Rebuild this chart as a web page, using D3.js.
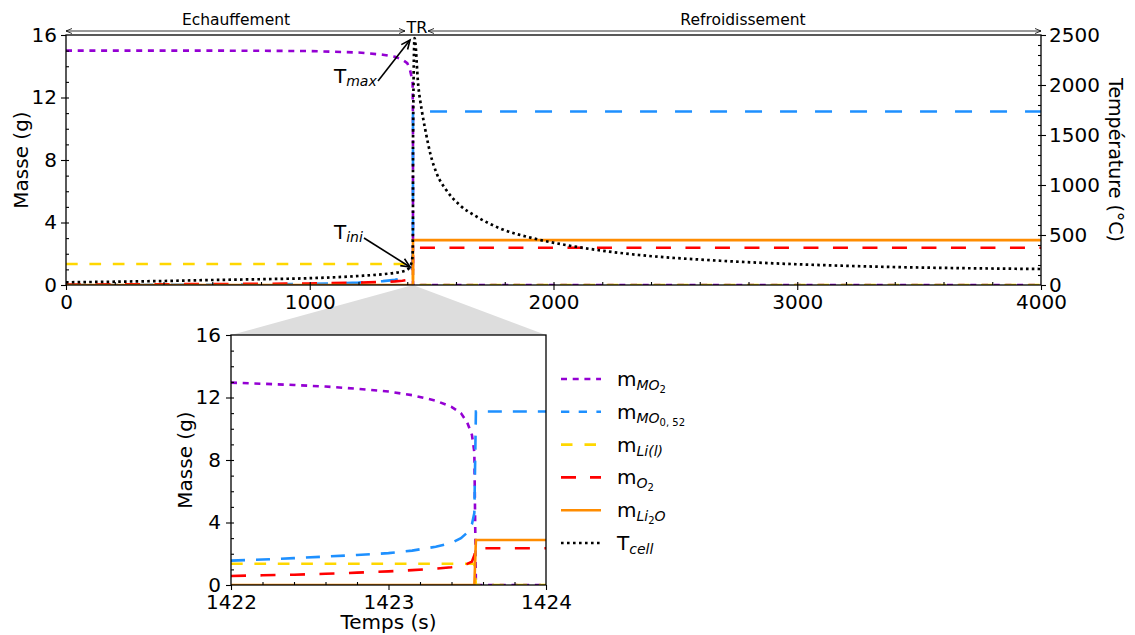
<!DOCTYPE html>
<html><head><meta charset="utf-8">
<script src="https://cdn.jsdelivr.net/npm/d3@7"></script>
<style>
body{margin:0;background:#fff}
text{font-family:"DejaVu Sans",sans-serif;fill:#000}
</style>
</head><body>
<svg id="c" width="1135" height="635"></svg>
<script>
// ---------------- DATA ----------------
const mainTime = [0, 200, 400, 600, 800, 1000, 1200, 1300, 1350, 1380, 1400, 1410, 1418, 1422, 1423.5, 1423.56, 1430, 1445, 1460, 1475, 1495, 1520, 1560, 1615, 1685, 1780, 1920, 2050, 2180, 2350, 2630, 2900, 3180, 3450, 3720, 4000];
const mainMO2 = [15, 15, 15, 15, 14.99, 14.97, 14.88, 14.74, 14.6, 14.42, 14.2, 13.85, 13.3, 12.95, 10.5, 0, 0, 0, 0, 0, 0, 0, 0, 0, 0, 0, 0, 0, 0, 0, 0, 0, 0, 0, 0, 0];
const mainMO052 = [0, 0, 0.01, 0.02, 0.04, 0.07, 0.15, 0.25, 0.33, 0.45, 0.55, 0.75, 1.1, 1.56, 3.3, 11.1, 11.1, 11.1, 11.1, 11.1, 11.1, 11.1, 11.1, 11.1, 11.1, 11.1, 11.1, 11.1, 11.1, 11.1, 11.1, 11.1, 11.1, 11.1, 11.1, 11.1];
const mainLi = [1.34, 1.34, 1.34, 1.34, 1.34, 1.34, 1.34, 1.34, 1.34, 1.34, 1.34, 1.34, 1.34, 1.34, 1.34, 0, 0, 0, 0, 0, 0, 0, 0, 0, 0, 0, 0, 0, 0, 0, 0, 0, 0, 0, 0, 0];
const mainO2 = [0.03, 0.04, 0.05, 0.06, 0.08, 0.1, 0.15, 0.2, 0.23, 0.27, 0.32, 0.37, 0.47, 0.58, 1.35, 2.38, 2.38, 2.38, 2.38, 2.38, 2.38, 2.38, 2.38, 2.38, 2.38, 2.38, 2.38, 2.38, 2.38, 2.38, 2.38, 2.38, 2.38, 2.38, 2.38, 2.38];
const mainLi2O = [0, 0, 0, 0, 0, 0, 0, 0, 0, 0, 0, 0, 0, 0, 0, 2.87, 2.87, 2.87, 2.87, 2.87, 2.87, 2.87, 2.87, 2.87, 2.87, 2.87, 2.87, 2.87, 2.87, 2.87, 2.87, 2.87, 2.87, 2.87, 2.87, 2.87];
const mainTcell = [27, 33, 40, 50, 58, 68, 90, 108, 122, 135, 152, 180, 230, 300, 700, 1400, 2470, 2000, 1740, 1540, 1310, 1120, 950, 800, 683, 567, 465, 400, 350, 300, 250, 217, 193, 177, 167, 160];

const insetTime = [1422, 1422.2, 1422.4, 1422.6, 1422.8, 1423, 1423.15, 1423.3, 1423.4, 1423.46, 1423.5, 1423.53, 1423.545, 1423.555, 1423.6, 1424];
const insetMO2 = [12.95, 12.88, 12.8, 12.7, 12.56, 12.38, 12.15, 11.8, 11.4, 11.0, 10.4, 9.6, 8.5, 0, 0, 0];
const insetMO052 = [1.56, 1.63, 1.72, 1.82, 1.92, 2.04, 2.2, 2.45, 2.7, 3.0, 3.35, 3.9, 4.6, 11.1, 11.1, 11.1];
const insetLi = [1.36, 1.36, 1.36, 1.36, 1.36, 1.36, 1.36, 1.36, 1.36, 1.36, 1.36, 1.36, 1.36, 0, 0, 0];
const insetO2 = [0.58, 0.62, 0.66, 0.72, 0.79, 0.87, 0.95, 1.05, 1.14, 1.22, 1.35, 1.5, 1.9, 2.35, 2.35, 2.35];
const insetLi2O = [0, 0, 0, 0, 0, 0, 0, 0, 0, 0, 0, 0, 0, 2.88, 2.88, 2.88];

const xTicksMain = [0, 1000, 2000, 3000, 4000];
const yTicksMass = [0, 4, 8, 12, 16];
const yTicksTemp = [0, 500, 1000, 1500, 2000, 2500];
const xTicksInset = [1422, 1423, 1424];

// ---------------- SETUP ----------------
const svg = d3.select("#c");
const fmt = d3.format("d");
const x = d3.scaleLinear([0, 4000], [66, 1041]);
const yL = d3.scaleLinear([0, 16], [285, 35]);
const yR = d3.scaleLinear([0, 2500], [285, 35]);
const xi = d3.scaleLinear([1422, 1424], [231, 546]);
const yi = d3.scaleLinear([0, 16], [585, 335]);

const series = [
  {name: "MO2", color: "#9400D3", main: mainMO2, inset: insetMO2, dashMain: "6,5.7", dashInset: "6,5.7", dashLeg: "6,5.7", w: 2.6},
  {name: "MO052", color: "#1E90FF", main: mainMO052, inset: insetMO052, dashMain: "17,18", dashInset: "14,11", dashLeg: "8.3,9.4", w: 2.6},
  {name: "Li", color: "#FFD700", main: mainLi, inset: insetLi, dashMain: "11.7,11.7", dashInset: "11.7,11.7", dashLeg: "11.5,12", w: 2.6},
  {name: "O2", color: "#FF0000", main: mainO2, inset: insetO2, dashMain: "15,14.5", dashInset: "15,14.5", dashLeg: "15,14", w: 2.6},
  {name: "Li2O", color: "#FF8C00", main: mainLi2O, inset: insetLi2O, dashMain: null, dashInset: null, dashLeg: null, w: 2.6}
];

const defs = svg.append("defs");
defs.append("clipPath").attr("id", "clipMain").append("rect").attr("x", 66).attr("y", 35).attr("width", 975).attr("height", 250);
defs.append("clipPath").attr("id", "clipInset").append("rect").attr("x", 231).attr("y", 335).attr("width", 315).attr("height", 250);

// zoom connector
svg.append("polygon")
  .attr("points", [[x(1423), 285], [xi(1422), 335], [xi(1424), 335]].map(p => p.join(",")).join(" "))
  .attr("fill", "#dddddd");

// ---------------- MAIN LINES ----------------
const gMain = svg.append("g").attr("clip-path", "url(#clipMain)");
series.forEach(s => {
  const line = d3.line().x((d, i) => x(mainTime[i])).y(d => yL(d));
  gMain.append("path").datum(s.main).attr("d", line).attr("fill", "none")
    .attr("stroke", s.color).attr("stroke-width", s.w)
    .attr("stroke-dasharray", s.dashMain).attr("stroke-linecap", "butt");
});
const tLine = d3.line().x((d, i) => x(mainTime[i])).y(d => yR(d)).curve(d3.curveMonotoneX);
gMain.append("path").datum(mainTcell).attr("d", tLine).attr("fill", "none")
  .attr("stroke", "#000").attr("stroke-width", 2.7).attr("stroke-dasharray", "2.6,3.2");

// ---------------- INSET LINES ----------------
const gIn = svg.append("g").attr("clip-path", "url(#clipInset)");
gIn.append("rect").attr("x", 231).attr("y", 335).attr("width", 315).attr("height", 250).attr("fill", "#fff");
series.forEach(s => {
  const line = d3.line().x((d, i) => xi(insetTime[i])).y(d => yi(d));
  gIn.append("path").datum(s.inset).attr("d", line).attr("fill", "none")
    .attr("stroke", s.color).attr("stroke-width", s.w)
    .attr("stroke-dasharray", s.dashInset).attr("stroke-linecap", "butt");
});

// ---------------- AXES ----------------
function styleAxis(g, fs) {
  g.select(".domain").remove();
  g.selectAll("line").attr("stroke", "#000").attr("stroke-width", 1.1);
  g.selectAll("text").attr("font-size", fs).attr("font-family", "DejaVu Sans").attr("fill", "#000");
  g.attr("font-family", null).attr("font-size", null);
}
function minor(gen, vals, size) {
  return gen.tickValues(vals).tickSize(size).tickFormat("").tickSizeOuter(0);
}

// main x
let g = svg.append("g").attr("transform", "translate(0,285)")
  .call(d3.axisBottom(x).tickValues(xTicksMain).tickFormat(fmt).tickSize(5).tickPadding(5).tickSizeOuter(0));
styleAxis(g, 20);
g = svg.append("g").attr("transform", "translate(0,285)").call(minor(d3.axisBottom(x), d3.range(200, 4000, 200), -3));
styleAxis(g, 20);
// main left
g = svg.append("g").attr("transform", "translate(66,0)")
  .call(d3.axisLeft(yL).tickValues(yTicksMass).tickFormat(fmt).tickSize(5).tickPadding(4).tickSizeOuter(0));
styleAxis(g, 20);
g = svg.append("g").attr("transform", "translate(66,0)").call(minor(d3.axisLeft(yL), d3.range(1, 16, 1), -3));
styleAxis(g, 20);
// main right
g = svg.append("g").attr("transform", "translate(1041,0)")
  .call(d3.axisRight(yR).tickValues(yTicksTemp).tickFormat(fmt).tickSize(5).tickPadding(3).tickSizeOuter(0));
styleAxis(g, 20);
g = svg.append("g").attr("transform", "translate(1041,0)").call(minor(d3.axisRight(yR), d3.range(100, 2500, 100), -3));
styleAxis(g, 20);
// main frame
svg.append("rect").attr("x", 66).attr("y", 35).attr("width", 975).attr("height", 250)
  .attr("fill", "none").attr("stroke", "#000").attr("stroke-width", 1.3);

// inset x
g = svg.append("g").attr("transform", "translate(0,585)")
  .call(d3.axisBottom(xi).tickValues(xTicksInset).tickFormat(fmt).tickSize(5).tickPadding(5).tickSizeOuter(0));
styleAxis(g, 20);
g = svg.append("g").attr("transform", "translate(0,585)").call(minor(d3.axisBottom(xi), [1422.2, 1422.4, 1422.6, 1422.8, 1423.2, 1423.4, 1423.6, 1423.8], -3));
styleAxis(g, 20);
g = svg.append("g").attr("transform", "translate(231,0)")
  .call(d3.axisLeft(yi).tickValues(yTicksMass).tickFormat(fmt).tickSize(5).tickPadding(5).tickSizeOuter(0));
styleAxis(g, 20);
g = svg.append("g").attr("transform", "translate(231,0)").call(minor(d3.axisLeft(yi), d3.range(1, 16, 1), -3));
styleAxis(g, 20);
svg.append("rect").attr("x", 231).attr("y", 335).attr("width", 315).attr("height", 250)
  .attr("fill", "none").attr("stroke", "#000").attr("stroke-width", 1.3);

// axis labels
svg.append("text").attr("transform", "translate(28,160) rotate(-90)").attr("text-anchor", "middle")
  .attr("font-size", 20).text("Masse (g)");
svg.append("text").attr("transform", "translate(1109,160) rotate(90)").attr("text-anchor", "middle")
  .attr("font-size", 19).text("Température (°C)");
svg.append("text").attr("transform", "translate(192,460) rotate(-90)").attr("text-anchor", "middle")
  .attr("font-size", 20).text("Masse (g)");
svg.append("text").attr("x", 388.5).attr("y", 629).attr("text-anchor", "middle")
  .attr("font-size", 20).text("Temps (s)");

// ---------------- TOP PHASE ANNOTATIONS ----------------
function arrowHead(g, x0, y0, x1, y1, len, half, sw) {
  const a = Math.atan2(y1 - y0, x1 - x0);
  const bx = x1 - len * Math.cos(a), by = y1 - len * Math.sin(a);
  const px = -Math.sin(a) * half, py = Math.cos(a) * half;
  g.append("path").attr("d", `M${bx + px},${by + py}L${x1},${y1}L${bx - px},${by - py}`)
    .attr("fill", "none").attr("stroke", "#000").attr("stroke-width", sw);
}
function dblArrow(x0, x1, y) {
  const ga = svg.append("g");
  ga.append("line").attr("x1", x0).attr("x2", x1).attr("y1", y).attr("y2", y).attr("stroke", "#000").attr("stroke-width", 0.8);
  arrowHead(ga, x1, y, x0, y, 6, 2.5, 0.8);
  arrowHead(ga, x0, y, x1, y, 6, 2.5, 0.8);
}
dblArrow(x(0), 405, 31);
dblArrow(428, x(4000), 31);
svg.append("text").attr("x", 236).attr("y", 25).attr("text-anchor", "middle").attr("font-size", 15.5).text("Echauffement");
svg.append("text").attr("x", 417).attr("y", 33).attr("text-anchor", "middle").attr("font-size", 16).text("TR");
svg.append("text").attr("x", 743).attr("y", 25).attr("text-anchor", "middle").attr("font-size", 15.5).text("Refroidissement");

// ---------------- T annotations ----------------
function richText(gx, xx, yy, parts, anchor) {
  const t = gx.append("text").attr("x", xx).attr("y", yy).attr("text-anchor", anchor || "start");
  let prev = 0;
  parts.forEach(p => {
    t.append("tspan").attr("dy", p.off - prev).attr("font-size", p.size)
      .attr("font-style", p.it ? "italic" : "normal").text(p.t);
    prev = p.off;
  });
  return t;
}
richText(svg, 334, 83, [{t: "T", size: 20, off: 0}, {t: "max", size: 14, off: 3, it: true}]);
richText(svg, 334, 239, [{t: "T", size: 20, off: 0}, {t: "ini", size: 14, off: 3, it: true}]);
let ga = svg.append("g");
ga.append("line").attr("x1", 378).attr("y1", 81).attr("x2", 410).attr("y2", 40).attr("stroke", "#000").attr("stroke-width", 1.6);
arrowHead(ga, 378, 81, 410, 40, 9, 4, 1.6);
ga.append("line").attr("x1", 364).attr("y1", 238).attr("x2", 410).attr("y2", 267).attr("stroke", "#000").attr("stroke-width", 1.6);
arrowHead(ga, 364, 238, 410, 267, 9, 4, 1.6);

// ---------------- LEGEND ----------------
const legLabels = [
  [{t: "m", size: 20, off: 0}, {t: "MO", size: 14, off: 4, it: true}, {t: "2", size: 10, off: 7}],
  [{t: "m", size: 20, off: 0}, {t: "MO", size: 14, off: 4, it: true}, {t: "0, 52", size: 10, off: 7}],
  [{t: "m", size: 20, off: 0}, {t: "Li(l)", size: 14, off: 4, it: true}],
  [{t: "m", size: 20, off: 0}, {t: "O", size: 14, off: 4, it: true}, {t: "2", size: 10, off: 7}],
  [{t: "m", size: 20, off: 0}, {t: "Li", size: 14, off: 4, it: true}, {t: "2", size: 10, off: 7}, {t: "O", size: 14, off: 4, it: true}],
  [{t: "T", size: 20, off: 0}, {t: "cell", size: 14, off: 4, it: true}]
];
const legItems = series.map(s => ({color: s.color, dash: s.dashLeg, w: s.w}))
  .concat([{color: "#000", dash: "2.6,3.4", w: 2.7}]);
const legY = d3.scaleLinear([0, 5], [379, 543]);
legItems.forEach((it, i) => {
  const yy = legY(i);
  svg.append("line").attr("x1", 561).attr("x2", 601).attr("y1", yy).attr("y2", yy)
    .attr("stroke", it.color).attr("stroke-width", it.w).attr("stroke-dasharray", it.dash);
  richText(svg, 617, yy + 7, legLabels[i]);
});
</script>
</body></html>
